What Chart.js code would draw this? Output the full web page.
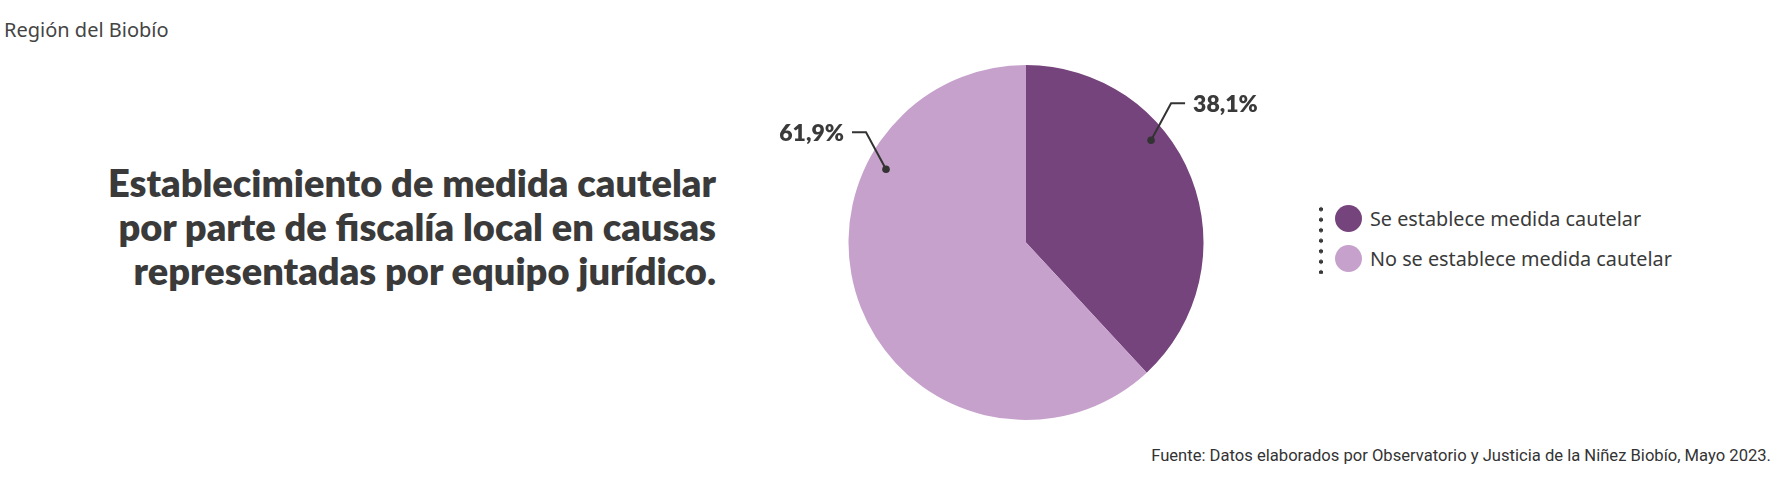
<!DOCTYPE html>
<html>
<head>
<meta charset="utf-8">
<script src="https://cdn.jsdelivr.net/npm/chart.js@4"></script>
<style>
  html, body { margin: 0; padding: 0; background: #fff; }
  body { width: 1792px; height: 477px; position: relative; overflow: hidden; font-family: 'Lato', 'Noto Sans', sans-serif; color: #3a3a3a; }
  .region { position: absolute; left: 4px; top: 16px; font-size: 20px; font-family: 'Noto Sans', sans-serif; color: #444; }
  .title { position: absolute; right: calc(1792px - 716px); top: 160px; text-align: right; font-weight: 800; font-size: 38px; line-height: 44px; color: #3a3a3a; white-space: nowrap; }
  .chart-box { position: absolute; left: 726px; top: 55px; width: 600px; height: 375px; }
  .legend { position: absolute; left: 1316px; top: 202px; }
  .legend .dots { position: absolute; left: 3px; top: 2px; width: 4px; height: 70px;
    background-image: radial-gradient(circle, #3a3a3a 1.9px, transparent 2.1px); background-size: 4px 10.5px; }
  .legend .item { position: absolute; left: 19px; white-space: nowrap; font-size: 19.8px; font-family: 'Noto Sans', sans-serif; line-height: 28px; }
  .legend .sw { display: inline-block; width: 27px; height: 27px; border-radius: 50%; vertical-align: top; margin-right: 8px; }
  .footer { position: absolute; right: 21px; top: 446px; font-size: 16.6px; font-family: 'Roboto', sans-serif; color: #333; white-space: nowrap; }
</style>
</head>
<body>
<div class="region">Región del Biobío</div>
<div class="title">Establecimiento de medida cautelar<br>por parte de fiscalía local en causas<br>representadas por equipo jurídico.</div>
<div class="chart-box"><canvas id="c"></canvas></div>
<div class="legend" id="legend"><div class="dots"></div></div>
<div class="footer">Fuente: Datos elaborados por Observatorio y Justicia de la Niñez Biobío, Mayo 2023.</div>
<script>
const categories = ['Se establece medida cautelar', 'No se establece medida cautelar'];
const values = [38.1, 61.9];
const colors = ['#76447c', '#c6a1cc'];
const valueLabels = ['38,1%', '61,9%'];

// where each leader line starts inside its slice (share of the arc, share of the radius) and which way it goes
const anchorAt = [0.37, 0.72];
const anchorR = [0.91, 0.89];
const labelSide = [1, -1];

// legend
const legend = document.getElementById('legend');
categories.forEach((cat, i) => {
  const row = document.createElement('div');
  row.className = 'item';
  row.style.top = (3 + i * 40) + 'px';
  row.innerHTML = '<span class="sw" style="background:' + colors[i] + '"></span>' + cat;
  legend.appendChild(row);
});

const leaderLabels = {
  id: 'leaderLabels',
  afterDatasetsDraw(chart) {
    const ctx = chart.ctx;
    const arcs = chart.getDatasetMeta(0).data;
    ctx.save();
    arcs.forEach((arc, i) => {
      const a = arc.startAngle + anchorAt[i] * (arc.endAngle - arc.startAngle);
      const r = arc.outerRadius * anchorR[i];
      const x0 = arc.x + Math.cos(a) * r;
      const y0 = arc.y + Math.sin(a) * r;
      const s = labelSide[i];
      const x1 = x0 + s * 20;
      const y1 = y0 - 37;
      const x2 = x1 + s * 14;
      ctx.strokeStyle = '#333';
      ctx.lineWidth = 2;
      ctx.beginPath();
      ctx.moveTo(x0, y0);
      ctx.lineTo(x1, y1);
      ctx.lineTo(x2, y1);
      ctx.stroke();
      ctx.fillStyle = '#333';
      ctx.beginPath();
      ctx.arc(x0, y0, 3.8, 0, Math.PI * 2);
      ctx.fill();
      ctx.font = '800 23px Lato, "Noto Sans", sans-serif';
      ctx.textBaseline = 'middle';
      ctx.textAlign = s > 0 ? 'left' : 'right';
      ctx.fillStyle = '#3a3a3a';
      ctx.fillText(valueLabels[i], x2 + s * 8, y1 + 1);
    });
    ctx.restore();
  }
};

new Chart(document.getElementById('c'), {
  type: 'pie',
  data: {
    labels: categories,
    datasets: [{ data: values, backgroundColor: colors, borderWidth: 0, hoverOffset: 0 }]
  },
  options: {
    responsive: true,
    maintainAspectRatio: false,
    animation: false,
    layout: { padding: { left: 110, right: 110, top: 10, bottom: 10 } },
    plugins: { legend: { display: false }, tooltip: { enabled: false } }
  },
  plugins: [leaderLabels]
});
</script>
</body>
</html>
